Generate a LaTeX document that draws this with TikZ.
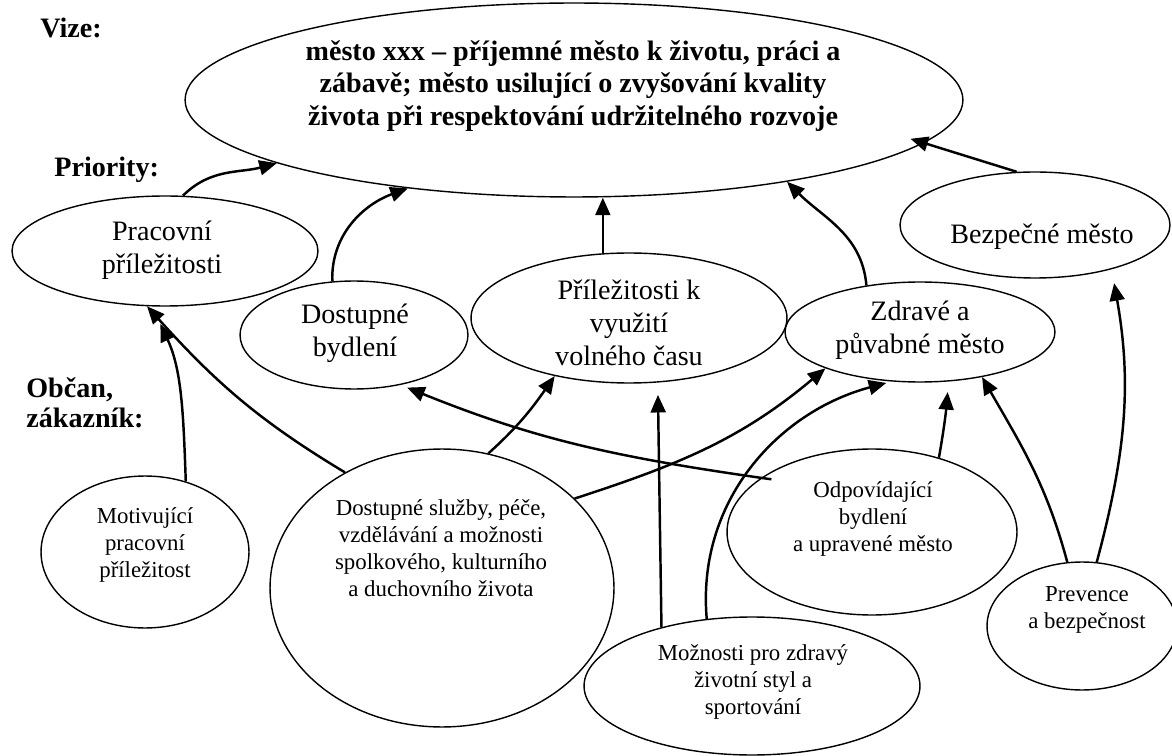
\documentclass[tikz,border=0pt]{standalone}
\usepackage{fontspec}
\setmainfont{Liberation Serif}
\usepackage{tikz}
\usetikzlibrary{shapes.geometric, arrows.meta}
\tikzstyle{elipsa-std}=[draw, ellipse, line width=0.8pt, inner sep=0pt]
\tikzstyle{sipka-std}=[-{Triangle[length=10pt,width=8.5pt]}, line width=1.4pt]
\tikzstyle{text-velky}=[align=center, font={\fontsize{16pt}{18.7pt}\selectfont}]
\tikzstyle{text-maly}=[align=center, font={\fontsize{13pt}{15.3pt}\selectfont}]
\tikzstyle{nadpis}=[align=left, anchor=west, inner xsep=0pt, font={\bfseries\fontsize{16pt}{17pt}\selectfont}]

\begin{document}
\begin{tikzpicture}[x=0.02cm, y=-0.02cm]
  \useasboundingbox (0,0) rectangle (1172,756);
  % elipsy
  \node[elipsa-std, minimum width=15.56cm, minimum height=3.88cm] (e-vize) at (574,100) {};
  \node[elipsa-std, minimum width=6.12cm, minimum height=2.2cm] (e-prac) at (165,251) {};
  \node[elipsa-std, minimum width=4.56cm, minimum height=2.16cm] (e-bydl) at (354,335) {};
  \node[elipsa-std, minimum width=6.32cm, minimum height=2.6cm] (e-volno) at (629,318) {};
  \node[elipsa-std, minimum width=5.4cm, minimum height=2.0cm] (e-zdrav) at (920,332) {};
  \node[elipsa-std, minimum width=5.4cm, minimum height=2.12cm] (e-bezp) at (1035,225) {};
  \node[elipsa-std, minimum width=4.16cm, minimum height=3.04cm] (e-motiv) at (145,552) {};
  \node[elipsa-std, minimum width=6.88cm, minimum height=5.56cm] (e-sluzby) at (442,588) {};
  \node[elipsa-std, minimum width=5.8cm, minimum height=3.32cm] (e-odpov) at (872,532) {};
  \node[elipsa-std, minimum width=6.72cm, minimum height=2.76cm] (e-sport) at (752,686) {};
  \node[elipsa-std, minimum width=3.8cm, minimum height=2.56cm] (e-prev) at (1082,626) {};
  %
  \node[text-velky, font={\bfseries\fontsize{16pt}{18.7pt}\selectfont}] (t-vize) at (573,86)
    {město xxx – příjemné město k životu, práci a\\zábavě; město usilující o zvyšování kvality\\života při respektování udržitelného rozvoje};
  \node[text-velky] (t-prac) at (162,250) {Pracovní\\příležitosti};
  \node[text-velky] (t-bydl) at (355,333) {Dostupné\\bydlení};
  \node[text-velky] (t-volno) at (629,323) {Příležitosti k\\využití\\volného času};
  \node[text-velky] (t-zdrav) at (920,330) {Zdravé a\\půvabné město};
  \node[text-velky] (t-bezp) at (1042,237) {Bezpečné město};
  \node[text-maly] (t-motiv) at (145,545) {Motivující\\pracovní\\příležitost};
  \node[text-maly] (t-sluzby) at (441,548) {Dostupné služby, péče,\\vzdělávání a možnosti\\spolkového, kulturního\\a duchovního života};
  \node[text-maly] (t-odpov) at (873,519) {Odpovídající\\bydlení\\a upravené město};
  \node[text-maly] (t-sport) at (753,682) {Možnosti pro zdravý\\životní styl a\\sportování};
  \node[text-maly] (t-prev) at (1087,610) {Prevence\\a bezpečnost};
  %
  \node[nadpis] (n-vize) at (40,28) {Vize:};
  \node[nadpis] (n-prior) at (54,170) {Priority:};
  \node[nadpis] (n-obcan) at (26,403) {Občan,\\zákazník:};
  % sipky k vizi
  \draw[sipka-std] (e-prac.72) to[out=45,in=195] (e-vize.192);
  \draw[sipka-std] (e-bydl.112) to[out=92,in=200] (e-vize.208);
  \draw[sipka-std] (e-volno.112) -- (e-volno.112 |- e-vize.south);
  \draw[sipka-std] (e-zdrav.139) to[out=95,in=-45] (e-vize.-21);
  \draw[sipka-std, shorten >=-8pt] (e-bezp.109) -- (e-vize.-7);
  % sipky k prioritam
  \draw[sipka-std, shorten >=8pt] (e-prev.77) to[out=75,in=-80] (e-bezp.-30);
  \draw[sipka-std] (e-prev.103) to[out=105,in=-60] (e-zdrav.-36);
  \draw[sipka-std, shorten >=6pt] (e-odpov.48) to[out=80,in=-95] (e-zdrav.-60);
  \draw[sipka-std, shorten >=3pt] (e-sport.124) to[out=95,in=195] (e-zdrav.-120);
  \draw[sipka-std, shorten >=7pt] (e-sport.147.5) -- (e-volno.-66);
  \draw[sipka-std] (e-sluzby.71) to[out=42,in=235] (e-volno.218);
  \draw[sipka-std] (e-sluzby.34) to[out=18,in=220] (e-zdrav.201);
  \draw[sipka-std] (e-sluzby.130) to[out=149,in=-48] (e-prac.-108);
  \draw[sipka-std, shorten >=11pt] (e-motiv.60) to[out=92,in=-65] (e-prac.-103);
  \draw[sipka-std, shorten <=-6pt, shorten >=4pt] (e-odpov.154) to[out=172,in=-22] (e-bydl.-47);
\end{tikzpicture}
\end{document}
